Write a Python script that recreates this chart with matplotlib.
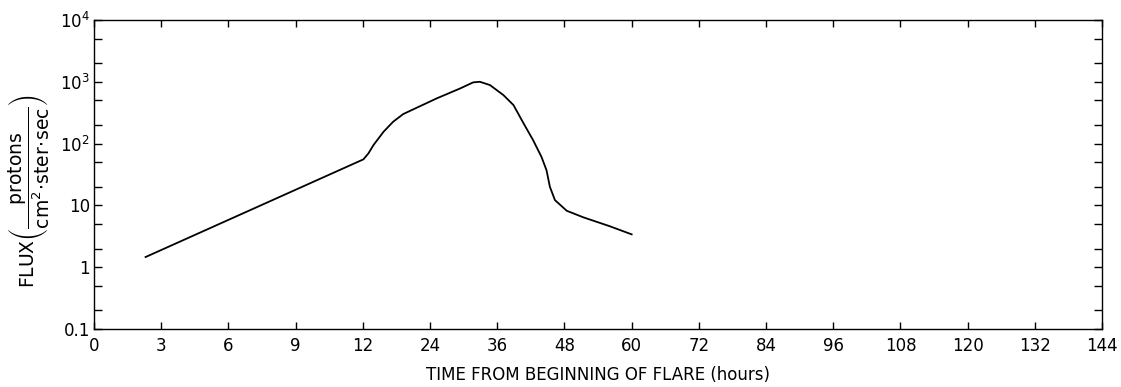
import matplotlib
matplotlib.use("Agg")
import matplotlib.pyplot as plt
from matplotlib.ticker import LogLocator, NullFormatter
import numpy as np

# Proton flux after the flare
hours = [2.3, 12.1, 13.0, 13.9, 15.7, 17.4, 19.2, 21.6, 25.2, 29.4, 31.7,
         32.9, 34.7, 37.1, 38.9, 40.7, 42.4, 43.9, 44.8, 45.4, 46.3, 48.4,
         51.4, 56.1, 60.0]
flux = [1.46, 55.7, 69.7, 94.9, 156, 226, 301, 381, 541, 785, 982,
        1004, 888, 611, 421, 213, 114, 61, 37, 20, 12.2, 8.2,
        6.4, 4.6, 3.4]

x_ticks = [0, 3, 6, 9, 12, 24, 36, 48, 60, 72, 84, 96, 108, 120, 132, 144]
y_ticks = [0.1, 1, 10, 100, 1000, 10000]
y_labels = ["0.1", "1", "10", "$10^2$", "$10^3$", "$10^4$"]

plt.rcParams["font.family"] = "DejaVu Sans"
plt.rcParams["mathtext.fontset"] = "dejavusans"


# time axis: 3 h per step up to 12 h, then 12 h per step
def fwd(h):
    h = np.asarray(h, dtype=float)
    return np.where(h <= 12, h / 3.0, 4 + (h - 12) / 12.0)


def inv(p):
    p = np.asarray(p, dtype=float)
    return np.where(p <= 4, p * 3.0, 12 + (p - 4) * 12.0)


fig = plt.figure(figsize=(11.21, 3.87), dpi=100)
ax = fig.add_axes([0.0839, 0.150, 0.8992, 0.798])

ax.plot(hours, flux, color="black", lw=1.3)

ax.set_xscale("function", functions=(fwd, inv))
ax.set_yscale("log")
ax.set_xlim(0, 144)
ax.set_ylim(0.1, 10000)

ax.set_xticks(x_ticks)
ax.set_xticklabels([str(t) for t in x_ticks], fontsize=12)
ax.set_yticks(y_ticks)
ax.set_yticklabels(y_labels, fontsize=12)
ax.yaxis.set_minor_locator(LogLocator(base=10, subs=(2, 5)))
ax.yaxis.set_minor_formatter(NullFormatter())
ax.xaxis.set_minor_locator(plt.NullLocator())

ax.tick_params(axis="x", which="both", direction="in", top=True, length=5,
               width=1, pad=6)
ax.tick_params(axis="y", which="both", direction="in", right=True, length=6,
               width=1, pad=3)

for s in ax.spines.values():
    s.set_linewidth(1.0)

ax.set_xlabel("TIME FROM BEGINNING OF FLARE (hours)", fontsize=12, labelpad=8)
ax.set_ylabel(r"FLUX$\left(\dfrac{\mathrm{protons}}{\mathrm{cm^2\!\cdot\!ster\!\cdot\!sec}}\right)$",
              fontsize=13.5)
ax.yaxis.set_label_coords(-0.042, 0.445)

fig.savefig("out.png", dpi=100)
